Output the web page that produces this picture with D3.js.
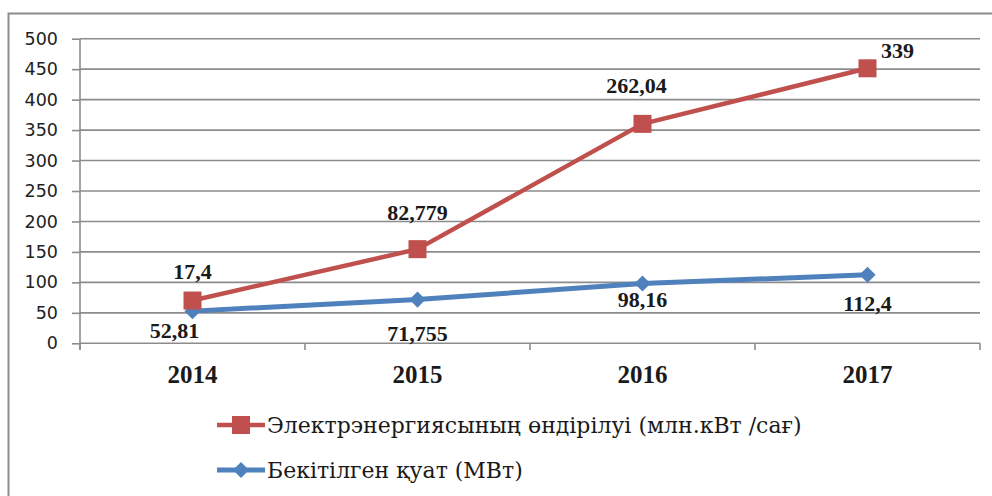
<!DOCTYPE html>
<html><head><meta charset="utf-8">
<script src="https://cdn.jsdelivr.net/npm/d3@7"></script>
<style>body{margin:0;background:#fff}svg{display:block}</style>
</head><body>
<svg id="c" width="992" height="496"></svg>
<script>
const years = ["2014", "2015", "2016", "2017"];
const capacity = [52.81, 71.755, 98.16, 112.4];          // Бекітілген қуат (МВт)
const production = [17.4, 82.779, 262.04, 339];           // Электрэнергиясының өндірілуі
const capacityLabels = ["52,81", "71,755", "98,16", "112,4"];
const productionLabels = ["17,4", "82,779", "262,04", "339"];
const yTicks = [0, 50, 100, 150, 200, 250, 300, 350, 400, 450, 500];
const seriesNames = ["Электрэнергиясының өндірілуі (млн.кВт /сағ)", "Бекітілген қуат (МВт)"];

const RED = "#C0504D", BLUE = "#4F81BD", GRID = "#8c8c8c";
const svg = d3.select("#c");

// outer frame
svg.append("rect").attr("x", 8.5).attr("y", 13.5).attr("width", 1000).attr("height", 520)
  .attr("fill", "none").attr("stroke", GRID).attr("stroke-width", 2);

const x = d3.scaleBand().domain(years).range([80, 980]).padding(0);
const y = d3.scaleLinear().domain([0, 500]).range([343.3, 38.7]);

// stacked data
const table = years.map((yr, i) => ({year: yr, cap: capacity[i], prod: production[i]}));
const stacked = d3.stack().keys(["cap", "prod"])(table);

// gridlines
svg.append("g").selectAll("line").data(yTicks.filter(d => d > 0)).join("line")
  .attr("x1", 80).attr("x2", 980).attr("y1", d => y(d)).attr("y2", d => y(d))
  .attr("stroke", GRID).attr("stroke-width", 1.6);

// y axis
const yAxis = svg.append("g").attr("transform", "translate(80,0)")
  .call(d3.axisLeft(y).tickValues(yTicks).tickSize(8).tickPadding(14).tickFormat(d3.format("d")));
yAxis.select(".domain").attr("stroke", GRID).attr("stroke-width", 1.6).attr("d", "M0,38.7V350");
yAxis.selectAll(".tick line").attr("stroke", GRID).attr("stroke-width", 1.6);
yAxis.selectAll(".tick text").attr("fill", "#222").style("font-family", "'DejaVu Sans', Verdana, sans-serif").style("font-size", "17.5px");

// x axis
const xAxis = svg.append("g").attr("transform", "translate(0,343.3)")
  .call(d3.axisBottom(x).tickSize(0).tickPadding(22));
xAxis.select(".domain").attr("stroke", GRID).attr("stroke-width", 1.6).attr("d", "M80,0H980");
xAxis.selectAll(".tick text").attr("fill", "#1a1a1a")
  .style("font-family", "'Liberation Serif', 'Times New Roman', serif").style("font-size", "25px").style("font-weight", "bold");
// category boundary ticks
svg.append("g").selectAll("line").data(years.concat(["end"])).join("line")
  .attr("x1", (d, i) => i < years.length ? x(d) : x(years[years.length-1]) + x.bandwidth())
  .attr("x2", (d, i) => i < years.length ? x(d) : x(years[years.length-1]) + x.bandwidth())
  .attr("y1", 343.3).attr("y2", 350).attr("stroke", GRID).attr("stroke-width", 1.6);

const cx = d => x(d.data.year) + x.bandwidth() / 2;
const line = d3.line().x(cx).y(d => y(d[1]));

const capS = stacked[0], prodS = stacked[1];
svg.append("path").datum(capS).attr("d", line).attr("fill", "none")
  .attr("stroke", BLUE).attr("stroke-width", 5).attr("stroke-linejoin", "round");
svg.append("path").datum(prodS).attr("d", line).attr("fill", "none")
  .attr("stroke", RED).attr("stroke-width", 4.5).attr("stroke-linejoin", "round");

const diamond = d3.symbol().type(d3.symbolSquare).size(130);
svg.append("g").selectAll("path").data(capS).join("path")
  .attr("d", diamond).attr("fill", BLUE)
  .attr("transform", d => `translate(${cx(d)},${y(d[1])}) rotate(45)`);
svg.append("g").selectAll("rect").data(prodS).join("rect")
  .attr("x", d => cx(d) - 9).attr("y", d => y(d[1]) - 9).attr("width", 18).attr("height", 18)
  .attr("fill", RED);

// labels
const labelFont = "'Liberation Serif', 'Times New Roman', serif";
const prodOff = [[0, -22], [0, -29], [-6, -31], [30, -10]];
const capOff = [[-18, 27], [0, 41], [0, 23], [0, 36]];
svg.append("g").selectAll("text").data(prodS).join("text")
  .attr("x", (d, i) => cx(d) + prodOff[i][0]).attr("y", (d, i) => y(d[1]) + prodOff[i][1])
  .attr("text-anchor", "middle").attr("fill", "#1a1a1a")
  .style("font-family", labelFont).style("font-size", "22px").style("font-weight", "bold")
  .text((d, i) => productionLabels[i]);
svg.append("g").selectAll("text").data(capS).join("text")
  .attr("x", (d, i) => cx(d) + capOff[i][0]).attr("y", (d, i) => y(d[1]) + capOff[i][1])
  .attr("text-anchor", "middle").attr("fill", "#1a1a1a")
  .style("font-family", labelFont).style("font-size", "22px").style("font-weight", "bold")
  .text((d, i) => capacityLabels[i]);

// legend
const lg = svg.append("g");
const legendItems = [{name: seriesNames[0], color: RED, y: 425, sym: "sq"}, {name: seriesNames[1], color: BLUE, y: 470, sym: "di"}];
const legendTexts = [];
legendItems.forEach(it => {
  lg.append("line").attr("x1", 217).attr("x2", 265).attr("y1", it.y).attr("y2", it.y)
    .attr("stroke", it.color).attr("stroke-width", it.sym === "sq" ? 4.5 : 5);
  if (it.sym === "sq") {
    lg.append("rect").attr("x", 232).attr("y", it.y - 9).attr("width", 18).attr("height", 18).attr("fill", it.color);
  } else {
    lg.append("path").attr("d", diamond).attr("fill", it.color).attr("transform", `translate(241,${it.y}) rotate(45)`);
  }
  legendTexts.push(lg.append("text").attr("x", 267).attr("y", it.y + 8).attr("fill", "#1a1a1a")
    .style("font-family", "'DejaVu Serif', serif").style("font-size", "22px").text(it.name));
});
// fit legend font so the first entry spans like the reference
const w0 = legendTexts[0].node().getComputedTextLength();
const fs = Math.min(24, 22 * 535 / w0);
legendTexts.forEach(t => t.style("font-size", fs + "px"));
</script>
</body></html>
